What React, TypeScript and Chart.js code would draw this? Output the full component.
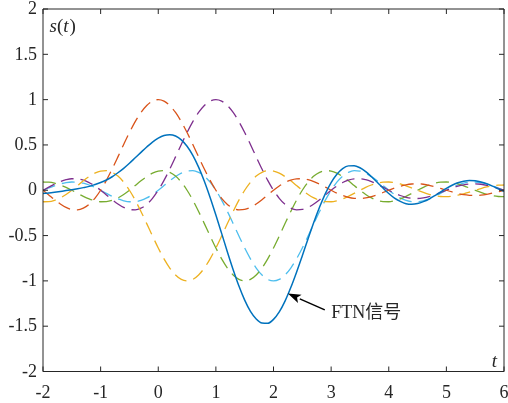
import React, { useEffect, useRef } from "react";
import { Chart, registerables } from "chart.js";

Chart.register(...registerables);

// time axis (t)
const tValues = [
  -2, -1.9, -1.8, -1.7, -1.6, -1.5, -1.4, -1.3, -1.2, -1.1,
  -1, -0.9, -0.8, -0.7, -0.6, -0.5, -0.4, -0.3, -0.2, -0.1,
  0, 0.1, 0.2, 0.3, 0.4, 0.5, 0.6, 0.7, 0.8, 0.9,
  1, 1.1, 1.2, 1.3, 1.4, 1.5, 1.6, 1.7, 1.8, 1.9,
  2, 2.1, 2.2, 2.3, 2.4, 2.5, 2.6, 2.7, 2.8, 2.9,
  3, 3.1, 3.2, 3.3, 3.4, 3.5, 3.6, 3.7, 3.8, 3.9,
  4, 4.1, 4.2, 4.3, 4.4, 4.5, 4.6, 4.7, 4.8, 4.9,
  5, 5.1, 5.2, 5.3, 5.4, 5.5, 5.6, 5.7, 5.8, 5.9,
  6,
];

// FTN signal s(t) (solid blue)
const ftnSignal = [
  -0.036, -0.030, -0.022, -0.013, -0.004, 0.006, 0.017, 0.029, 0.043, 0.063,
  0.085, 0.113, 0.149, 0.193, 0.242, 0.298, 0.358, 0.418, 0.477, 0.532,
  0.575, 0.604, 0.613, 0.598, 0.556, 0.486, 0.385, 0.255, 0.099, -0.080,
  -0.274, -0.476, -0.681, -0.877, -1.057, -1.212, -1.336, -1.420, -1.465, -1.468,
  -1.425, -1.342, -1.223, -1.074, -0.904, -0.722, -0.536, -0.353, -0.185, -0.037,
  0.085, 0.177, 0.239, 0.269, 0.271, 0.248, 0.206, 0.149, 0.088, 0.024,
  -0.036, -0.087, -0.123, -0.148, -0.155, -0.147, -0.126, -0.097, -0.059, -0.019,
  0.020, 0.055, 0.082, 0.099, 0.107, 0.104, 0.091, 0.071, 0.045, 0.015,
  -0.013,
];

// pulse 1 (red dashed)
const pulseRed = [
  0, -0.052, -0.104, -0.151, -0.189, -0.212, -0.216, -0.198, -0.156, -0.089,
  0, 0.109, 0.234, 0.368, 0.505, 0.637, 0.757, 0.858, 0.935, 0.984,
  1, 0.984, 0.935, 0.858, 0.757, 0.637, 0.505, 0.368, 0.234, 0.109,
  0, -0.089, -0.156, -0.198, -0.216, -0.212, -0.189, -0.151, -0.104, -0.052,
  0, 0.047, 0.085, 0.112, 0.126, 0.127, 0.116, 0.095, 0.067, 0.034,
  0, -0.032, -0.058, -0.078, -0.089, -0.091, -0.084, -0.070, -0.049, -0.025,
  0, 0.024, 0.045, 0.060, 0.069, 0.071, 0.066, 0.055, 0.039, 0.020,
  0, -0.019, -0.036, -0.049, -0.056, -0.058, -0.054, -0.045, -0.032, -0.017,
  0,
];

// pulse 2 (yellow dashed)
const pulseYellow = [
  -0.127, -0.126, -0.112, -0.085, -0.047, 0, 0.052, 0.104, 0.151, 0.189,
  0.212, 0.216, 0.198, 0.156, 0.089, 0, -0.109, -0.234, -0.368, -0.505,
  -0.637, -0.757, -0.858, -0.935, -0.984, -1, -0.984, -0.935, -0.858, -0.757,
  -0.637, -0.505, -0.368, -0.234, -0.109, 0, 0.089, 0.156, 0.198, 0.216,
  0.212, 0.189, 0.151, 0.104, 0.052, 0, -0.047, -0.085, -0.112, -0.126,
  -0.127, -0.116, -0.095, -0.067, -0.034, 0, 0.032, 0.058, 0.078, 0.089,
  0.091, 0.084, 0.070, 0.049, 0.025, 0, -0.024, -0.045, -0.060, -0.069,
  -0.071, -0.066, -0.055, -0.039, -0.020, 0, 0.019, 0.036, 0.049, 0.056,
  0.058,
];

// pulse 3 (purple dashed)
const pulsePurple = [
  0, 0.034, 0.067, 0.095, 0.116, 0.127, 0.126, 0.112, 0.085, 0.047,
  0, -0.052, -0.104, -0.151, -0.189, -0.212, -0.216, -0.198, -0.156, -0.089,
  0, 0.109, 0.234, 0.368, 0.505, 0.637, 0.757, 0.858, 0.935, 0.984,
  1, 0.984, 0.935, 0.858, 0.757, 0.637, 0.505, 0.368, 0.234, 0.109,
  0, -0.089, -0.156, -0.198, -0.216, -0.212, -0.189, -0.151, -0.104, -0.052,
  0, 0.047, 0.085, 0.112, 0.126, 0.127, 0.116, 0.095, 0.067, 0.034,
  0, -0.032, -0.058, -0.078, -0.089, -0.091, -0.084, -0.070, -0.049, -0.025,
  0, 0.024, 0.045, 0.060, 0.069, 0.071, 0.066, 0.055, 0.039, 0.020,
  0,
];

// pulse 4 (green dashed)
const pulseGreen = [
  0.091, 0.089, 0.078, 0.058, 0.032, 0, -0.034, -0.067, -0.095, -0.116,
  -0.127, -0.126, -0.112, -0.085, -0.047, 0, 0.052, 0.104, 0.151, 0.189,
  0.212, 0.216, 0.198, 0.156, 0.089, 0, -0.109, -0.234, -0.368, -0.505,
  -0.637, -0.757, -0.858, -0.935, -0.984, -1, -0.984, -0.935, -0.858, -0.757,
  -0.637, -0.505, -0.368, -0.234, -0.109, 0, 0.089, 0.156, 0.198, 0.216,
  0.212, 0.189, 0.151, 0.104, 0.052, 0, -0.047, -0.085, -0.112, -0.126,
  -0.127, -0.116, -0.095, -0.067, -0.034, 0, 0.032, 0.058, 0.078, 0.089,
  0.091, 0.084, 0.070, 0.049, 0.025, 0, -0.024, -0.045, -0.060, -0.069,
  -0.071,
];

// pulse 5 (cyan dashed)
const pulseCyan = [
  0, 0.025, 0.049, 0.070, 0.084, 0.091, 0.089, 0.078, 0.058, 0.032,
  0, -0.034, -0.067, -0.095, -0.116, -0.127, -0.126, -0.112, -0.085, -0.047,
  0, 0.052, 0.104, 0.151, 0.189, 0.212, 0.216, 0.198, 0.156, 0.089,
  0, -0.109, -0.234, -0.368, -0.505, -0.637, -0.757, -0.858, -0.935, -0.984,
  -1, -0.984, -0.935, -0.858, -0.757, -0.637, -0.505, -0.368, -0.234, -0.109,
  0, 0.089, 0.156, 0.198, 0.216, 0.212, 0.189, 0.151, 0.104, 0.052,
  0, -0.047, -0.085, -0.112, -0.126, -0.127, -0.116, -0.095, -0.067, -0.034,
  0, 0.032, 0.058, 0.078, 0.089, 0.091, 0.084, 0.070, 0.049, 0.025,
  0,
];

const xTicks = [-2, -1, 0, 1, 2, 3, 4, 5, 6];
const yTicks = [-2, -1.5, -1, -0.5, 0, 0.5, 1, 1.5, 2];
const xTickLabels = ["-2", "-1", "0", "1", "2", "3", "4", "5", "6"];
const yTickLabels = ["-2", "-1.5", "-1", "-0.5", "0", "0.5", "1", "1.5", "2"];

const xLabel = "t";
const annotationText = "FTN信号";
const arrowTip = { t: 2.25, s: -1.14 };
const arrowTail = { t: 2.89, s: -1.32 };
const annotationAt = { t: 3.0, s: -1.415 };

const AXIS_COLOR = "#262626";
const SERIF_FAMILY = "'Liberation Serif', 'Times New Roman', 'Noto Sans CJK SC', serif";

const toPoints = (ys: number[]) => tValues.map((t, i) => ({ x: t, y: ys[i] }));

const framePlugin = {
  id: "matlabFrame",
  afterDatasetsDraw(chart: any) {
    const { ctx, chartArea: a, scales } = chart;
    const xs = scales.x;
    const ys = scales.y;
    ctx.save();
    ctx.strokeStyle = AXIS_COLOR;
    ctx.lineWidth = 1;
    ctx.setLineDash([]);
    ctx.beginPath();
    ctx.rect(a.left, a.top, a.right - a.left, a.bottom - a.top);
    ctx.stroke();
    const tl = 5;
    ctx.beginPath();
    for (const v of xTicks) {
      const px = xs.getPixelForValue(v);
      ctx.moveTo(px, a.bottom);
      ctx.lineTo(px, a.bottom - tl);
      ctx.moveTo(px, a.top);
      ctx.lineTo(px, a.top + tl);
    }
    for (const v of yTicks) {
      const py = ys.getPixelForValue(v);
      ctx.moveTo(a.left, py);
      ctx.lineTo(a.left + tl, py);
      ctx.moveTo(a.right, py);
      ctx.lineTo(a.right - tl, py);
    }
    ctx.stroke();

    // tick labels
    ctx.fillStyle = AXIS_COLOR;
    ctx.font = `18px ${SERIF_FAMILY}`;
    ctx.textAlign = "right";
    ctx.textBaseline = "middle";
    yTicks.forEach((v, i) => {
      ctx.fillText(yTickLabels[i], a.left - 6, ys.getPixelForValue(v) + 0.5);
    });
    ctx.textAlign = "center";
    ctx.textBaseline = "alphabetic";
    xTicks.forEach((v, i) => {
      ctx.fillText(xTickLabels[i], xs.getPixelForValue(v), a.bottom + 26);
    });

    // y label s(t) with italic letters
    ctx.textAlign = "left";
    let x = a.left + 6.5;
    const yb = a.top + 22.5;
    const parts: [string, boolean][] = [["s", true], ["(", false], ["t", true], [")", false]];
    for (const [txt, it] of parts) {
      ctx.font = `${it ? "italic " : ""}19px ${SERIF_FAMILY}`;
      ctx.fillText(txt, x, yb);
      x += ctx.measureText(txt).width + (txt === "t" ? 1 : 0);
    }

    // x label t
    ctx.font = `italic 19px ${SERIF_FAMILY}`;
    ctx.textAlign = "right";
    ctx.fillText(xLabel, a.right - 7, a.bottom - 5);

    // arrow annotation
    const tipX = xs.getPixelForValue(arrowTip.t);
    const tipY = ys.getPixelForValue(arrowTip.s);
    const tailX = xs.getPixelForValue(arrowTail.t);
    const tailY = ys.getPixelForValue(arrowTail.s);
    const ang = Math.atan2(tipY - tailY, tipX - tailX);
    const headLen = 13;
    const headW = 4.5;
    const bx = tipX - headLen * Math.cos(ang);
    const by = tipY - headLen * Math.sin(ang);
    ctx.strokeStyle = "#000";
    ctx.fillStyle = "#000";
    ctx.lineWidth = 1.5;
    ctx.beginPath();
    ctx.moveTo(tailX, tailY);
    ctx.lineTo(bx, by);
    ctx.stroke();
    ctx.beginPath();
    ctx.moveTo(tipX, tipY);
    ctx.lineTo(bx + headW * Math.sin(ang), by - headW * Math.cos(ang));
    ctx.lineTo(bx + 3 * Math.cos(ang), by + 3 * Math.sin(ang));
    ctx.lineTo(bx - headW * Math.sin(ang), by + headW * Math.cos(ang));
    ctx.closePath();
    ctx.fill();

    ctx.fillStyle = AXIS_COLOR;
    ctx.textAlign = "left";
    ctx.font = `18px ${SERIF_FAMILY}`;
    ctx.fillText(annotationText, xs.getPixelForValue(annotationAt.t), ys.getPixelForValue(annotationAt.s));
    ctx.restore();
  },
};

export default function App() {
  const ref = useRef<HTMLCanvasElement | null>(null);
  useEffect(() => {
    if (!ref.current) return;
    const dash = [13, 7];
    const mk = (label: string, data: number[], color: string, dashed: boolean) => ({
      label,
      data: toPoints(data),
      borderColor: color,
      backgroundColor: color,
      borderWidth: dashed ? 1.3 : 1.5,
      borderDash: dashed ? dash : [],
      pointRadius: 0,
      fill: false,
      cubicInterpolationMode: "monotone" as const,
    });
    const chart = new Chart(ref.current, {
      type: "line",
      data: {
        datasets: [
          mk("FTN信号", ftnSignal, "#0072BD", false),
          mk("p0", pulseRed, "#D95319", true),
          mk("p1", pulseYellow, "#EDB120", true),
          mk("p2", pulsePurple, "#7E2F8E", true),
          mk("p3", pulseGreen, "#77AC30", true),
          mk("p4", pulseCyan, "#4DBEEE", true),
        ],
      },
      options: {
        animation: false,
        responsive: false,
        devicePixelRatio: 1,
        layout: { padding: { top: 9, right: 4, left: 0, bottom: 0 } },
        plugins: { legend: { display: false }, tooltip: { enabled: false } },
        scales: {
          x: {
            type: "linear",
            min: -2,
            max: 6,
            grid: { display: false, drawTicks: false },
            border: { display: false },
            afterBuildTicks: (s: any) => {
              s.ticks = xTicks.map((v) => ({ value: v }));
            },
            afterFit: (s: any) => {
              s.height = 31.5;
              s.paddingLeft = 0;
              s.paddingRight = 0;
            },
            ticks: { display: false },
          },
          y: {
            type: "linear",
            min: -2,
            max: 2,
            grid: { display: false, drawTicks: false },
            border: { display: false },
            afterBuildTicks: (s: any) => {
              s.ticks = yTicks.map((v) => ({ value: v }));
            },
            afterFit: (s: any) => {
              s.width = 43;
              s.paddingTop = 0;
              s.paddingBottom = 0;
            },
            ticks: { display: false },
          },
        },
      },
      plugins: [framePlugin],
    });
    return () => chart.destroy();
  }, []);
  return (
    <div style={{ position: "fixed", left: 0, top: 0, width: 508, height: 403, background: "#fff" }}>
      <canvas ref={ref} width={508} height={403} style={{ display: "block" }} />
    </div>
  );
}
